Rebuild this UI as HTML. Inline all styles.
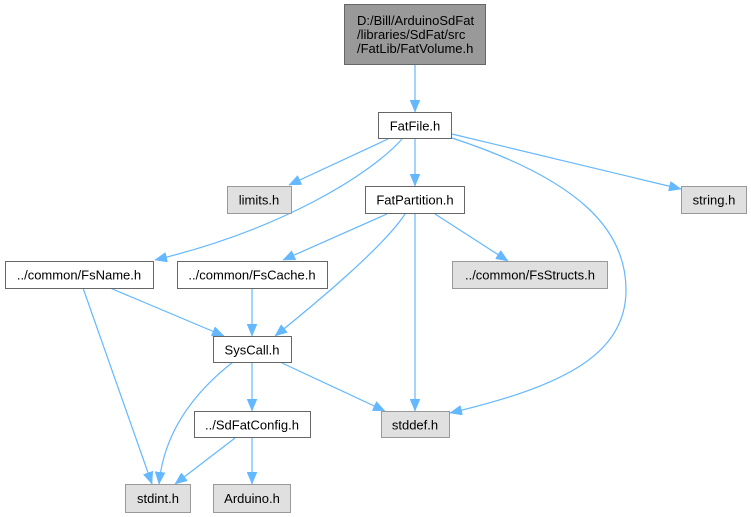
<!DOCTYPE html>
<html>
<head>
<meta charset="utf-8">
<style>
  html, body { margin: 0; padding: 0; background: #ffffff; }
  body { width: 751px; height: 517px; overflow: hidden; }
  svg { display: block; }
  text { font-family: "Liberation Sans", Arial, sans-serif; font-size: 13px; fill: #000; }
</style>
</head>
<body>
<svg width="751" height="517" viewBox="0 0 751 517" xmlns="http://www.w3.org/2000/svg">
  <defs>
    <marker id="ah" viewBox="0 0 12 10" refX="12" refY="5" markerWidth="12" markerHeight="10" markerUnits="userSpaceOnUse" orient="auto">
      <path d="M0,0 L12,5 L0,10 z" fill="#63b8ff" stroke="#63b8ff" stroke-width="0.5"/>
    </marker>
  </defs>

  <g fill="none" stroke="#63b8ff" stroke-width="1.2" marker-end="url(#ah)">
    <path d="M415,64 L415,112"/>
    <path d="M388,139 L289,185"/>
    <path d="M402,139 C370,175 280,230 155,260"/>
    <path d="M415,139 L415,186"/>
    <path d="M452,134 L681,189"/>
    <path d="M452,138 C580,180 626,230 626,290 C626,358 555,388 450,413"/>
    <path d="M387,214 L283,260"/>
    <path d="M405,214 C385,245 320,300 275,336"/>
    <path d="M415,214 L415,411"/>
    <path d="M435,214 L508,261"/>
    <path d="M110,288 L224,336"/>
    <path d="M83,288 L152,484"/>
    <path d="M252,288 L252,336"/>
    <path d="M252,362 L252,411"/>
    <path d="M233,362 C210,380 165,420 159,484"/>
    <path d="M282,363 L385,411"/>
    <path d="M235,438 L175,484"/>
    <path d="M252,437 L252,484"/>
  </g>

  <rect x="344.5" y="4.5" width="141" height="60" fill="#999999" stroke="#666666"/>
  <text x="357" y="25">D:/Bill/ArduinoSdFat</text>
  <text x="357" y="39">/libraries/SdFat/src</text>
  <text x="357" y="53">/FatLib/FatVolume.h</text>

  <g fill="#ffffff" stroke="#666666">
    <rect x="378.5" y="112.5" width="73" height="26"/>
    <rect x="365.5" y="186.5" width="99" height="27"/>
    <rect x="5.5" y="261.5" width="148" height="27"/>
    <rect x="177.5" y="261.5" width="150" height="27"/>
    <rect x="213.5" y="336.5" width="78" height="26"/>
    <rect x="194.5" y="411.5" width="116" height="26"/>
  </g>

  <g fill="#e0e0e0" stroke="#999999">
    <rect x="227.5" y="186.5" width="64" height="27"/>
    <rect x="681.5" y="186.5" width="65" height="27"/>
    <rect x="452.5" y="261.5" width="155" height="27"/>
    <rect x="381.5" y="411.5" width="68" height="26"/>
    <rect x="125.5" y="484.5" width="65" height="28"/>
    <rect x="213.5" y="484.5" width="77" height="28"/>
  </g>

  <g text-anchor="middle">
    <text x="415" y="130.5">FatFile.h</text>
    <text x="259" y="204.5">limits.h</text>
    <text x="415" y="204.5">FatPartition.h</text>
    <text x="714" y="204.5">string.h</text>
    <text x="79" y="279.5">../common/FsName.h</text>
    <text x="252" y="279.5">../common/FsCache.h</text>
    <text x="530" y="279.5">../common/FsStructs.h</text>
    <text x="252" y="354.5">SysCall.h</text>
    <text x="252" y="429.5">../SdFatConfig.h</text>
    <text x="415" y="429.5">stddef.h</text>
    <text x="158" y="503">stdint.h</text>
    <text x="252" y="503">Arduino.h</text>
  </g>
</svg>
</body>
</html>
